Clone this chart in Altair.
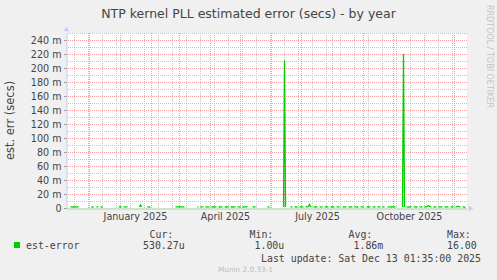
import altair as alt
import pandas as pd

N = None
# est-error in milliseconds, one value per day starting 2024-11-09 (None = no data)
err_ms = [
    N, N, N, 1.5, 1.6, 1.5, 1.4, 1.5, 1.6, 1.5, 1.5, 1.4, N, N, N, N, N, N, N, N,
    N, N, N, N, 1.4, 1.5, 1.4, N, N, 1.5, 1.6, 1.5, N, 1.5, 1.4, 1.5, N, N, N, N,
    N, N, N, N, N, N, N, N, N, N, N, 1.5, 1.6, 1.5, 1.4, N, 1.5, 1.6, 1.5, 1.5,
    1.5, N, N, N, N, N, N, N, N, N, N, N, 1.6, 4.5, 1.6, N, N, N, N, N,
    1.5, 1.4, 1.5, 1.5, N, N, N, N, N, N, N, N, N, N, N, N, N, N, N, N,
    N, N, N, N, N, N, N, N, 1.5, 1.6, 1.5, 1.5, 1.4, 1.5, 1.5, 1.6, 1.5, 1.5, N, N,
    N, N, N, N, N, N, N, N, N, N, 1.5, 1.4, N, 1.5, 1.6, 1.5, 1.5, N, 1.4, 1.5,
    1.5, 1.6, 1.5, N, 1.5, 1.4, 1.5, 1.6, 1.5, 1.5, N, 1.5, 1.4, 1.5, 1.5, 1.6, N, 1.5, 1.5, 1.4,
    1.5, 1.6, N, 1.5, 1.5, 1.4, 1.5, 1.6, 1.5, N, 1.5, 1.5, 1.6, 1.5, N, 1.5, 1.4, 1.5, 1.5, 1.6,
    1.5, N, N, N, N, 1.5, 1.6, 1.5, 1.4, N, N, N, N, N, N, N, N, N, N, N,
    1.5, 1.4, 1.5, N, N, N, N, N, N, N, N, N, N, N, N, N, 1.5, 211.0, 1.5, N,
    N, N, N, 1.5, 1.5, 1.6, N, 1.5, 1.5, 1.4, 1.5, N, 1.5, 1.5, 1.6, 1.5, 1.5, N, 1.5, 1.5,
    1.6, 2.5, 5.0, 2.0, 1.5, N, 1.5, 1.5, 1.4, 1.5, 1.6, N, 1.5, 1.5, 1.5, 1.4, N, 1.5, 1.6, 1.5,
    1.5, 1.5, N, 1.5, 1.4, 1.5, 1.5, 1.6, N, 1.5, 1.5, 1.5, 1.4, N, N, 1.5, 1.6, 1.5, 1.5, 1.5,
    N, 1.5, 1.4, 1.5, 1.6, 1.5, N, 1.5, 1.5, 1.5, 1.4, 1.5, N, 1.5, 1.6, 1.5, 1.5, N, N, 1.5,
    1.5, 1.4, 1.5, 1.6, N, 1.5, 1.5, 1.5, 1.4, N, 1.5, 1.5, 1.6, 1.5, N, 1.5, 1.5, 1.4, N, N,
    1.5, 1.5, 1.6, 1.5, 1.4, 1.5, 1.5, 1.5, 1.6, N, N, N, N, N, N, 1.5, 220.0, 1.5, N, 1.5,
    1.5, 1.4, 1.5, 1.6, 1.5, N, 1.5, 1.5, 1.5, 1.4, 1.5, N, 1.5, 1.6, 1.5, 1.5, N, 1.5, 1.5, 1.6,
    2.5, 3.2, 2.4, 1.5, 1.5, N, 1.5, 1.4, 1.5, 1.5, N, 1.5, 1.5, 1.6, 1.5, 1.5, N, 1.5, 1.4, 1.5,
    1.5, 1.5, N, 1.5, 1.6, 1.5, 1.5, N, 1.5, 1.6, 2.6, 1.8, 1.5, 1.5, N, 1.5, 1.5, 1.4, 0.53, N,
]
start_day = pd.Timestamp("2024-11-09")
dates = [(start_day + pd.Timedelta(days=i)).strftime("%Y-%m-%dT%H:%M:%SZ") for i in range(len(err_ms))]

month_starts = [f"{y}-{m:02d}-01T00:00:00Z" for (y, m) in
                [(2024, 12)] + [(2025, m) for m in range(1, 13)]]
minor_x = [(pd.Timestamp("2024-11-16") + pd.Timedelta(days=14 * k)).strftime("%Y-%m-%dT%H:%M:%SZ")
           for k in range(28)]
major_y = list(range(20, 241, 20))
minor_y = list(range(10, 251, 20))
y_label_values = list(range(0, 241, 20))
x_label_dates = [(2025, 1, 16), (2025, 4, 16), (2025, 7, 17), (2025, 10, 17)]

TITLE = "NTP kernel PLL estimated error (secs) - by year"
Y_TITLE = "est. err (secs)"
SERIES = "est-error"
STAT_HEADS = ["Cur:", "Min:", "Avg:", "Max:"]
STAT_VALUES = ["530.27u", "1.00u", "1.86m", "16.00"]
LAST_UPDATE = "Last update:  Sat Dec 13 01:35:00 2025"
FOOT = "Munin 2.0.33-1"
SIDE = "RRDTOOL / TOBI OETIKER"

X0, Y0, W, H = 67, 33, 400, 175
TXT = "#444444"
GREEN = "#00CC00"

xscale = alt.Scale(type="utc",
                   domain=[alt.DateTime(year=2024, month=11, date=9, utc=True),
                           alt.DateTime(year=2025, month=12, date=14, utc=True)])
yscale = alt.Scale(domain=[0, 250], nice=False, zero=True)

x_axis = alt.Axis(values=[alt.DateTime(year=y, month=m, date=d, utc=True) for (y, m, d) in x_label_dates],
                  labelExpr="utcFormat(datum.value, '%B %Y')",
                  ticks=False, grid=False, title=None, offset=0.5,
                  domainColor="#A8D8A8", domainWidth=1,
                  labelFont="DejaVu Sans", labelFontSize=9.6, labelColor=TXT,
                  labelPadding=2.5, labelFlush=False, labelOverlap=False)
y_axis = alt.Axis(values=y_label_values,
                  labelExpr="datum.value == 0 ? '0' : datum.value + ' m'",
                  grid=False, title=None, ticks=True, tickSize=3, tickColor="#9A9A9A", offset=0.5,
                  domainColor="#C8C8F4", domainWidth=1,
                  labelFont="DejaVu Sans", labelFontSize=9.6, labelColor=TXT,
                  labelPadding=2.5, labelFlush=False, labelOverlap=False)


def X(field="date:T"):
    return alt.X(field, scale=xscale, axis=x_axis)


def Y(field="err:Q"):
    return alt.Y(field, scale=yscale, axis=y_axis)


df = pd.DataFrame({"date": dates, "err": err_ms})

GRAY, RED = "#C4C4C4", "#F2A0A0"
grid_minor_v = alt.Chart(pd.DataFrame({"date": minor_x})).mark_rule(
    color=GRAY, strokeDash=[1, 1], strokeWidth=1, xOffset=0.5).encode(x=X())
grid_major_v = alt.Chart(pd.DataFrame({"date": month_starts})).mark_rule(
    color=RED, strokeDash=[1, 1], strokeWidth=1, xOffset=0.5).encode(x=X())
grid_minor_h = alt.Chart(pd.DataFrame({"err": minor_y})).mark_rule(
    color=GRAY, strokeDash=[1, 1], strokeWidth=1, yOffset=0.5).encode(y=Y())
grid_major_h = alt.Chart(pd.DataFrame({"err": major_y})).mark_rule(
    color=RED, strokeDash=[1, 1], strokeWidth=1, yOffset=0.5).encode(y=Y())

line = alt.Chart(df).mark_line(color=GREEN, strokeWidth=1.3, xOffset=0.5,
                               invalid="break-paths-filter-domains").encode(x=X(), y=Y())


def one():
    return alt.Chart(alt.Data(values=[{}]))


def txt(s, X_, Y_, size, font="DejaVu Sans Mono", color=TXT, align="left", baseline="alphabetic", angle=None):
    kw = dict(text=s, fontSize=size, font=font, color=color, align=align, baseline=baseline)
    if angle is not None:
        kw["angle"] = angle
    return one().mark_text(**kw).encode(x=alt.value(X_ - X0), y=alt.value(Y_ - Y0))


arrow_up = one().mark_point(shape="triangle-up", filled=True, color="#C8C8F4", size=28, opacity=1).encode(
    x=alt.value(-0.5), y=alt.value(-4))
arrow_right = one().mark_point(shape="triangle-right", filled=True, color="#C8C8F4", size=28, opacity=1).encode(
    x=alt.value(W + 4), y=alt.value(H + 0.5))

swatch = one().mark_rect(color=GREEN).encode(
    x=alt.value(14 - X0), x2=alt.value(20 - X0), y=alt.value(242 - Y0), y2=alt.value(248 - Y0))

layers = [grid_minor_v, grid_minor_h, grid_major_v, grid_major_h, line, arrow_up, arrow_right, swatch,
          txt(TITLE, 248.5, 17.5, 12.5, font="DejaVu Sans", align="center"),
          txt(Y_TITLE, 11, 120.5, 11.5, font="DejaVu Sans", align="center", baseline="middle", angle=270),
          txt(SIDE, 488.5, 56.5, 8, font="DejaVu Sans", color="#C4C4C4", align="center", baseline="middle", angle=90),
          txt(SERIES, 26, 249, 9.9),
          txt(LAST_UPDATE, 261, 261.5, 9.9),
          txt(FOOT, 218, 271.5, 7.3, font="DejaVu Sans", color="#BBBBBB")]
head_x = [149.5, 249.5, 348.5, 447]
val_x = [143, 254.5, 353.5, 447]
for h, hx in zip(STAT_HEADS, head_x):
    layers.append(txt(h, hx, 237.5, 9.9))
for v, vx in zip(STAT_VALUES, val_x):
    layers.append(txt(v, vx, 249, 9.9))

chart = alt.layer(*layers).properties(
    width=W, height=H,
    autosize=alt.AutoSizeParams(type="none"),
    padding={"left": X0, "top": Y0, "right": 497 - X0 - W, "bottom": 280 - Y0 - H},
    background="#F0F0F0",
).configure_view(fill="white", strokeWidth=0)

chart.save("out.html", embed_options={"renderer": "svg", "actions": False})
